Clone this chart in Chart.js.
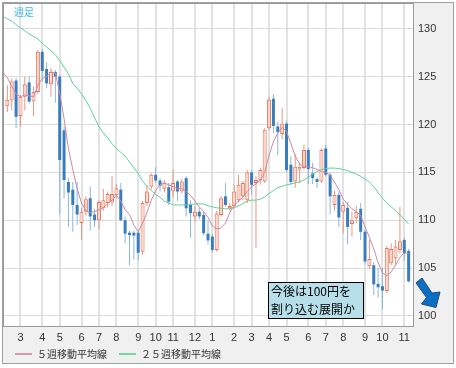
<!DOCTYPE html>
<html>
<head>
<meta charset="utf-8">
<script src="https://cdn.jsdelivr.net/npm/chart.js@4.4.1/dist/chart.umd.min.js"></script>
<style>
  html, body { margin: 0; padding: 0; background: #fff; }
  #wrap { width: 456px; height: 368px; }
</style>
</head>
<body>
<div id="wrap"><canvas id="chart" width="456" height="368"></canvas></div>
<script>
// month label at the first week of each month, '' elsewhere (slot 0 and 94 are empty edges)
const weeks = [
  '', '', '', '', '3', '', '', '', '', '4',
  '', '', '', '5', '', '', '', '', '6', '',
  '', '', '7', '', '', '', '8', '', '', '',
  '', '9', '', '', '', '10', '', '', '', '11',
  '', '', '', '', '12', '', '', '', '1', '',
  '', '', '', '2', '', '', '', '3', '', '',
  '', '4', '', '', '', '5', '', '', '', '',
  '6', '', '', '', '7', '', '', '', '8', '',
  '', '', '', '9', '', '', '', '10', '', '',
  '', '', '11', '', ''
];

const opens = [null,
  121.9, 122.5, 124.6, 120.9, 122.9, 124.4, 122.4, 123.4, 127.6, 125.8,
  124.2, 125.5, 125.0, 119.4, 114.0, 113.2, 111.6, 109.7, 110.9, 112.3,
  110.6, 110.0, 111.25, 111.8, 111.85, 112.65, 113.2, 110.0, 108.7, 108.7,
  108.7, 106.7, 111.8, 113.5, 114.75, 114.15, 113.3, 113.45, 113.0, 114.05,
  113.0, 114.4, 111.6, 110.4, 110.9, 110.55, 108.6, 108.3, 106.9, 110.55,
  112.5, 111.25, 111.45, 112.1, 112.5, 112.1, 115.0, 113.9, 114.2, 114.05,
  119.6, 122.7, 119.8, 119.0, 120.1, 115.8, 114.05, 115.3, 115.45, 117.35,
  114.9, 114.3, 114.05, 117.5, 114.75, 111.6, 112.65, 110.9, 111.3, 109.6,
  110.2, 111.2, 108.8, 105.2, 105.3, 103.35, 103.1, 102.6, 105.5, 106.0,
  106.9, 107.95, 106.8,
null];

const highs = [null,
  124.1, 124.8, 124.9, 123.1, 125.0, 125.0, 124.0, 127.8, 127.9, 126.5,
  125.9, 125.7, 125.2, 119.8, 114.4, 114.0, 114.0, 111.3, 112.5, 113.5,
  111.2, 112.1, 113.3, 113.0, 114.6, 113.8, 113.9, 110.4, 108.9, 108.9,
  108.9, 112.0, 113.7, 114.9, 115.6, 114.4, 114.2, 113.9, 115.3, 114.2,
  114.3, 114.6, 112.1, 111.5, 111.3, 110.9, 110.0, 108.6, 111.0, 112.5,
  113.9, 111.8, 113.7, 114.75, 114.1, 115.25, 115.25, 114.6, 115.5, 119.6,
  122.9, 123.2, 120.3, 121.7, 120.4, 116.65, 116.9, 116.0, 117.9, 117.6,
  116.0, 114.5, 117.5, 117.9, 115.0, 113.1, 113.0, 111.9, 111.9, 110.9,
  111.5, 111.8, 109.0, 108.0, 105.6, 105.0, 105.0, 107.3, 107.6, 107.95,
  111.4, 108.2, 107.0,
null];

const lows = [null,
  121.3, 121.5, 119.6, 119.8, 121.5, 122.2, 120.9, 123.2, 124.5, 123.8,
  122.9, 122.3, 110.6, 112.3, 109.3, 108.8, 109.5, 108.0, 110.5, 108.9,
  109.3, 109.0, 111.0, 111.3, 111.5, 112.3, 109.9, 107.6, 105.3, 105.9,
  105.8, 106.4, 111.5, 113.2, 113.9, 113.0, 112.9, 111.6, 112.4, 112.0,
  112.8, 110.4, 108.2, 109.8, 110.1, 108.4, 107.5, 106.6, 106.7, 110.4,
  111.4, 111.0, 111.3, 111.9, 112.1, 111.8, 112.7, 107.1, 113.7, 113.9,
  119.4, 119.1, 116.8, 118.5, 115.0, 113.7, 113.4, 113.9, 115.3, 113.8,
  113.8, 113.4, 113.9, 114.6, 110.6, 111.0, 109.3, 108.65, 107.5, 108.3,
  109.7, 107.9, 105.4, 104.9, 102.2, 101.9, 100.7, 102.4, 105.3, 105.3,
  106.5, 105.8, 103.5,
null];

const closes = [null,
  122.6, 124.5, 120.8, 122.9, 124.2, 122.4, 123.4, 127.6, 125.6, 124.3,
  125.5, 125.0, 116.3, 114.2, 112.9, 111.6, 110.6, 110.9, 112.2, 110.4,
  110.0, 111.9, 112.1, 112.75, 112.75, 113.35, 110.0, 108.6, 108.45, 108.4,
  106.6, 111.8, 113.0, 114.75, 114.15, 113.6, 113.95, 111.95, 113.9, 113.0,
  114.05, 111.25, 110.75, 110.9, 110.4, 108.65, 107.9, 106.9, 110.7, 112.3,
  111.6, 111.5, 113.0, 113.7, 113.9, 115.0, 113.7, 114.2, 115.25, 119.45,
  122.6, 119.85, 119.2, 120.1, 115.25, 114.0, 115.6, 115.6, 117.35, 115.35,
  114.4, 114.0, 117.35, 114.75, 112.5, 112.65, 110.3, 111.6, 109.3, 110.0,
  110.9, 108.8, 105.7, 105.95, 103.3, 103.0, 102.65, 107.1, 107.0, 107.25,
  107.8, 106.55, 103.6,
null];

// 5-week moving average
const ma5 = [
  125.4, 124.9, 124.0, 123.2, 122.9, 123.1, 123.0, 122.9, 124.1, 124.8,
  125.0, 125.5, 125.4, 123.3, 120.6, 117.5, 115.3, 113.3, 111.8, 111.0,
  110.8, 110.9, 111.1, 111.3, 111.75, 112.1, 112.6, 112.0, 111.1, 110.6,
  109.5, 108.8, 109.7, 110.8, 112.1, 113.1, 113.7, 113.9, 113.7, 113.5,
  113.3, 113.3, 113.0, 112.6, 112.0, 111.4, 110.9, 110.3, 109.4, 109.1,
  109.2, 109.7, 110.8, 111.6, 112.0, 112.4, 113.0, 113.5, 113.8, 114.2,
  115.0, 116.8, 118.2, 119.1, 119.7, 119.3, 118.0, 116.7, 115.9, 115.6,
  115.6, 115.5, 115.3, 115.1, 115.0, 114.7, 114.0, 113.2, 112.2, 111.7,
  111.2, 110.9, 110.5, 109.3, 108.2, 107.0, 105.6, 104.5, 104.2, 104.6,
  105.3, 106.1, 106.6, 106.5, null
];

// 25-week moving average
const ma25 = [
  131.3, 131.05, 130.8, 130.45, 130.1, 129.8, 129.45, 129.2, 128.95, 128.5,
  128.1, 127.7, 127.3, 126.7, 126.0, 125.3, 124.3, 123.8, 123.2, 122.5,
  121.7, 120.7, 119.8, 119.1, 118.6, 118.0, 117.5, 117.1, 116.7, 116.1,
  115.5, 114.9, 114.1, 113.5, 113.1, 112.7, 112.4, 112.0, 111.8, 111.6,
  111.6, 111.6, 111.6, 111.65, 111.7, 111.7, 111.7, 111.5, 111.4, 111.3,
  111.25, 111.2, 111.2, 111.3, 111.5, 111.75, 112.0, 112.1, 112.1, 112.2,
  112.45, 112.8, 113.1, 113.4, 113.55, 113.7, 113.8, 113.9, 114.0, 114.2,
  114.5, 114.8, 115.1, 115.3, 115.4, 115.45, 115.45, 115.4, 115.3, 115.2,
  115.0, 114.8, 114.6, 114.3, 114.0, 113.5, 112.9, 112.3, 111.8, 111.4,
  111.0, 110.6, 110.1, 109.6, null
];

const isUp = i => closes[i] !== null && closes[i] >= opens[i];
const wickData = lows.map((l, i) => l === null ? null : [l, highs[i]]);
const upData = opens.map((o, i) => (o !== null && isUp(i)) ? [o, closes[i]] : null);
const downData = opens.map((o, i) => (o !== null && !isUp(i)) ? [o, closes[i]] : null);

const tickFont = { family: 'Liberation Sans', size: 11 };

// no extra room for half tick labels: the plot runs right up to the frame
function noEdgePadding(s) {
  s.paddingTop = 0;
  s.paddingBottom = 0;
  s.paddingLeft = 0;
  s.paddingRight = 0;
}

// legend sample: a short line with a little empty room on its left
function legendLine(color) {
  const c = document.createElement('canvas');
  c.width = 22;
  c.height = 2;
  const g = c.getContext('2d');
  g.fillStyle = color;
  g.fillRect(5, 0, 17, 2);
  return c;
}

const panel = {
  id: 'panel',
  beforeDraw(chart) {
    const { ctx, chartArea: a } = chart;
    ctx.save();
    ctx.fillStyle = '#ffffff';
    ctx.fillRect(0, 0, chart.width, chart.height);
    ctx.fillStyle = '#f0f0f0';
    ctx.fillRect(3, 3, 450, 361);
    ctx.fillStyle = '#ffffff';
    ctx.fillRect(a.left, a.top, a.right - a.left, a.bottom - a.top);
    ctx.restore();
  },
  afterDraw(chart) {
    const { ctx, chartArea: a } = chart;
    ctx.save();
    // outer frame and plot frame
    ctx.strokeStyle = '#a0a0a0';
    ctx.lineWidth = 1;
    ctx.strokeRect(2.5, 2.5, 451, 361);
    ctx.strokeStyle = '#9a9a9a';
    ctx.beginPath();
    ctx.moveTo(a.left + 0.5, a.bottom);
    ctx.lineTo(a.left + 0.5, a.top + 0.5);
    ctx.lineTo(a.right, a.top + 0.5);
    ctx.stroke();

    // title
    ctx.font = '10px "Noto Sans CJK JP"';
    ctx.fillStyle = '#3ab8ee';
    ctx.textBaseline = 'middle';
    ctx.fillText('週足', 14, 12);

    // note box
    ctx.fillStyle = '#b6dfe9';
    ctx.fillRect(268.5, 282.5, 95, 36);
    ctx.strokeStyle = '#000';
    ctx.strokeRect(268.5, 282.5, 95, 36);
    ctx.fillStyle = '#000';
    ctx.font = '12px "Noto Sans CJK JP"';
    ctx.fillText('今後は100円を', 271, 291.5);
    ctx.fillText('割り込む展開か', 271, 309.5);

    // arrow
    ctx.beginPath();
    ctx.moveTo(416, 283);
    ctx.lineTo(422, 278);
    ctx.lineTo(432, 293);
    ctx.lineTo(440, 292);
    ctx.lineTo(436, 307.5);
    ctx.lineTo(421.5, 304);
    ctx.lineTo(426.5, 297.5);
    ctx.closePath();
    ctx.fillStyle = '#0a6fc2';
    ctx.fill();
    ctx.strokeStyle = '#1d4c7c';
    ctx.stroke();
    ctx.restore();
  }
};

const lineColors = { '５週移動平均線': '#d59ab2', '２５週移動平均線': '#72d6a5' };

new Chart(document.getElementById('chart'), {
  type: 'bar',
  data: {
    labels: weeks,
    datasets: [
      {
        type: 'line', label: '５週移動平均線', data: ma5,
        borderColor: '#cf88a5', backgroundColor: '#d59ab2',
        borderWidth: 1, pointRadius: 0, tension: 0, order: 0
      },
      {
        type: 'line', label: '２５週移動平均線', data: ma25,
        borderColor: '#5fd197', backgroundColor: '#72d6a5',
        borderWidth: 1, pointRadius: 0, tension: 0, order: 1
      },
      {
        label: 'up', data: upData, grouped: false, order: 2,
        backgroundColor: '#fbd8cb', borderColor: '#e2765c', borderWidth: 1,
        borderSkipped: false, barThickness: 4, minBarLength: 1.5, inflateAmount: 0
      },
      {
        label: 'down', data: downData, grouped: false, order: 2,
        backgroundColor: '#3a7dbf', borderWidth: 0,
        barThickness: 3, minBarLength: 1.5, inflateAmount: 0
      },
      {
        label: 'wick', data: wickData, grouped: false, order: 3,
        backgroundColor: c => isUp(c.dataIndex) ? '#ea9580' : '#8ab6dd',
        borderWidth: 0, barThickness: 1, inflateAmount: 0
      }
    ]
  },
  options: {
    responsive: false,
    devicePixelRatio: 1,
    animation: false,
    events: [],
    layout: { padding: { left: 3, top: 3, right: 3, bottom: -1 } },
    plugins: {
      tooltip: { enabled: false },
      legend: {
        position: 'bottom',
        align: 'start',
        labels: {
          filter: (item, data) => data.datasets[item.datasetIndex].type === 'line',
          generateLabels(chart) {
            const items = Chart.defaults.plugins.legend.labels.generateLabels(chart);
            items.forEach(it => { it.pointStyle = legendLine(lineColors[it.text]); });
            return items;
          },
          usePointStyle: true,
          pointStyleWidth: 22,
          boxHeight: 2,
          padding: 7,
          color: '#333',
          font: { family: 'Noto Sans CJK JP', size: 10 }
        }
      }
    },
    scales: {
      x: {
        type: 'category',
        offset: false,
        grid: {
          offset: false,
          drawTicks: false,
          lineWidth: 2,
          color: c => weeks[c.index] ? '#e2e2e2' : 'rgba(0,0,0,0)'
        },
        border: { color: '#9a9a9a' },
        ticks: { autoSkip: false, maxRotation: 0, padding: 5, color: '#333', font: tickFont },
        afterFit: s => { s.height = 16; noEdgePadding(s); }
      },
      y: {
        position: 'right',
        min: 98.95,
        max: 132.7,
        grid: { drawTicks: false, color: '#dcdcdc' },
        border: { color: '#9a9a9a' },
        ticks: { stepSize: 5, includeBounds: false, padding: 5, color: '#333', font: tickFont },
        afterFit: s => { s.width = 40; noEdgePadding(s); }
      }
    }
  },
  plugins: [panel]
});
</script>
</body>
</html>
